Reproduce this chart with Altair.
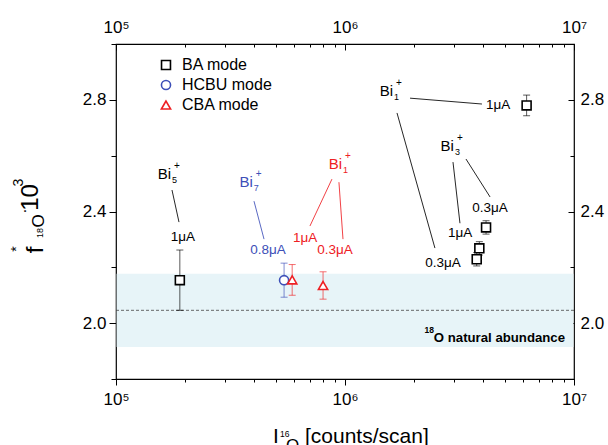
import altair as alt
import pandas as pd

FONT = "Liberation Sans"
W, H = 458, 335

# ---------------- data ----------------
modes = ["BA mode", "HCBU mode", "CBA mode"]
mode_colors = ["#000000", "#3d4fb8", "#ee2024"]
mode_shapes = ["square", "circle", "triangle-up"]
mode_sizes = [80, 85, 140]

pt_mode = ["BA mode", "BA mode", "BA mode", "BA mode", "BA mode", "HCBU mode", "CBA mode", "CBA mode"]
pt_x = [1.90e5, 6.21e6, 4.13e6, 3.86e6, 3.76e6, 5.42e5, 5.88e5, 8.02e5]
pt_y = [2.154, 2.780, 2.343, 2.268, 2.229, 2.154, 2.155, 2.135]
pt_err = [0.108, 0.037, 0.024, 0.024, 0.024, 0.061, 0.055, 0.049]

# ion labels (Bi_n^+)
bi_x = [1.74e5, 3.96e5, 9.70e5, 1.62e6, 2.99e6]
bi_y = [2.534, 2.505, 2.570, 2.833, 2.634]
bi_sub = ["5", "7", "1", "1", "3"]
bi_mode = ["BA mode", "HCBU mode", "CBA mode", "BA mode", "BA mode"]

# current labels
cur_text = ["1μA", "0.8μA", "1μA", "0.3μA", "1μA", "0.3μA", "0.3μA", "1μA"]
cur_x = [1.96e5, 4.61e5, 6.69e5, 9.04e5, 4.66e6, 2.68e6, 4.30e6, 3.18e6]
cur_y = [2.308, 2.262, 2.305, 2.262, 2.781, 2.215, 2.412, 2.323]
cur_mode = ["BA mode", "HCBU mode", "CBA mode", "CBA mode", "BA mode", "BA mode", "BA mode", "BA mode"]

# leader lines
ln_x1 = [1.756e5, 4.005e5, 8.77e5, 9.41e5, 1.923e6, 1.687e6, 2.962e6, 3.375e6]
ln_y1 = [2.477, 2.437, 2.516, 2.505, 2.806, 2.753, 2.577, 2.588]
ln_x2 = [1.884e5, 4.43e5, 7.03e5, 9.80e5, 3.963e6, 2.47e6, 3.177e6, 4.30e6]
ln_y2 = [2.362, 2.301, 2.348, 2.301, 2.785, 2.269, 2.358, 2.452]
ln_mode = ["BA mode", "HCBU mode", "CBA mode", "CBA mode", "BA mode", "BA mode", "BA mode", "BA mode"]

# natural abundance band
nat_value = [2.046]
nat_lo = [1.915]
nat_hi = [2.177]

# axis ticks
x_major = [1e5, 1e6, 1e7]
x_minor = [2e5, 3e5, 4e5, 5e5, 6e5, 7e5, 8e5, 9e5, 2e6, 3e6, 4e6, 5e6, 6e6, 7e6, 8e6, 9e6]
y_major = [2.0, 2.4, 2.8]
y_minor = [1.8, 2.2, 2.6, 3.0]

# ---------------- tables ----------------
pts = pd.DataFrame({"mode": pt_mode, "x": pt_x, "y": pt_y, "err": pt_err})
pts["lo"] = pts["y"] - pts["err"]
pts["hi"] = pts["y"] + pts["err"]
bi = pd.DataFrame({"x": bi_x, "y": bi_y, "sub": bi_sub, "mode": bi_mode})
cur = pd.DataFrame({"x": cur_x, "y": cur_y, "t": cur_text, "mode": cur_mode})
lines = pd.DataFrame({"x": ln_x1, "y": ln_y1, "x2": ln_x2, "y2": ln_y2, "mode": ln_mode})
band = pd.DataFrame({"v": nat_value, "lo": nat_lo, "hi": nat_hi})
one = pd.DataFrame({"a": [0]})

xscale = alt.Scale(type="log", domain=[1e5, 1e7])
yscale = alt.Scale(domain=[1.8, 3.0])


def cs():
    return alt.Scale(domain=modes, range=mode_colors)


leg = alt.Legend(orient="none", legendX=42, legendY=13, title=None, labelFont=FONT, labelFontSize=16,
                 labelColor="black", symbolSize=85, symbolStrokeWidth=1.6, rowPadding=4,
                 labelOffset=8, padding=0)


def X(f, axis=None):
    return alt.X(f, type="quantitative", scale=xscale, axis=axis)


def Y(f, axis=None):
    return alt.Y(f, type="quantitative", scale=yscale, axis=axis)


def C():
    return alt.Color("mode:N", scale=cs(), legend=None)


# ---------------- axes ----------------
lab = "datum.value == 100000 ? '10⁵' : datum.value == 1000000 ? '10⁶' : '10⁷'"
common = dict(grid=False, domain=False, tickColor="black", tickWidth=1, labelFont=FONT,
              labelFontSize=17, labelColor="black", labelFlush=False, labelOverlap=False, title=None)
ax_b = alt.Axis(orient="bottom", values=x_major, tickSize=6, labelPadding=6, labelExpr=lab, **common)
ax_bm = alt.Axis(orient="bottom", values=x_minor, tickSize=3, labels=False, **common)
ax_t = alt.Axis(orient="top", values=x_major, offset=-6, tickSize=6, labelPadding=8, labelExpr=lab, **common)
ax_tm = alt.Axis(orient="top", values=x_minor, offset=-3, tickSize=3, labels=False, **common)
ay_l = alt.Axis(orient="left", values=y_major, tickSize=7, labelPadding=3, format=".1f", **common)
ay_lm = alt.Axis(orient="left", values=y_minor, tickSize=5, labels=False, **common)
ay_r = alt.Axis(orient="right", values=y_major, offset=-6, tickSize=6, labelPadding=6, format=".1f", **common)
ay_rm = alt.Axis(orient="right", values=y_minor, offset=-4, tickSize=4, labels=False, **common)

carriers = [
    alt.Chart(pts).mark_point(opacity=0).encode(x=X("x", ax), y=Y("y", ay))
    for ax, ay in [(ax_b, ay_l), (ax_bm, ay_lm), (ax_t, ay_r), (ax_tm, ay_rm)]
]

# ---------------- marks ----------------
band_rect = alt.Chart(band).mark_rect(color="#e7f4f8").encode(
    y=Y("lo"), y2="hi", x=alt.value(0.6), x2=alt.value(W - 0.6))
band_line = alt.Chart(band).mark_rule(color="#444444", strokeWidth=0.8, strokeDash=[3, 2]).encode(
    y=Y("v"), x=alt.value(0), x2=alt.value(W))

leader = alt.Chart(lines).mark_rule(strokeWidth=1, opacity=0.85).encode(
    x=X("x"), y=Y("y"), x2="x2", y2="y2", color=C())

err_rule = alt.Chart(pts).mark_rule(strokeWidth=1, opacity=0.65).encode(
    x=X("x"), y=Y("lo"), y2="hi", color=C())
cap_lo = alt.Chart(pts).mark_tick(orient="horizontal", size=7, thickness=1, opacity=0.65).encode(
    x=X("x"), y=Y("lo"), color=C())
cap_hi = alt.Chart(pts).mark_tick(orient="horizontal", size=7, thickness=1, opacity=0.65).encode(
    x=X("x"), y=Y("hi"), color=C())

points = alt.Chart(pts).mark_point(filled=False, fill="white", fillOpacity=1, strokeWidth=1.6, opacity=1).encode(
    x=X("x"), y=Y("y"),
    color=alt.Color("mode:N", scale=cs(), legend=leg),
    shape=alt.Shape("mode:N", scale=alt.Scale(domain=modes, range=mode_shapes), legend=leg),
    size=alt.Size("mode:N", scale=alt.Scale(domain=modes, range=mode_sizes), legend=None),
)

bi_main = alt.Chart(bi).mark_text(text="Bi", font=FONT, fontSize=15, align="right", baseline="middle").encode(
    x=X("x"), y=Y("y"), color=C())
bi_subm = alt.Chart(bi).mark_text(font=FONT, fontSize=9, align="left", baseline="middle", dx=1, dy=6).encode(
    x=X("x"), y=Y("y"), text="sub:N", color=C())
bi_sup = alt.Chart(bi).mark_text(text="+", font=FONT, fontSize=10, align="left", baseline="middle", dx=3, dy=-8).encode(
    x=X("x"), y=Y("y"), color=C())
cur_lab = alt.Chart(cur).mark_text(font=FONT, fontSize=13.5, align="center", baseline="middle").encode(
    x=X("x"), y=Y("y"), text="t:N", color=C())


def txt(t, px, py, size, align="left", baseline="alphabetic", weight="normal", angle=0):
    return alt.Chart(one).mark_text(text=t, font=FONT, fontSize=size, align=align, baseline=baseline,
                                    fontWeight=weight, angle=angle, color="black").encode(
        x=alt.value(px), y=alt.value(py))


nat_text = [
    txt("O natural abundance", 449, 297.5, 13.2, align="right", weight="bold"),
    txt("18", 318, 289, 8.5, align="right", weight="bold"),
]

x_title = [
    txt("I", 157, 399, 21),
    txt("16", 164, 393, 8.5),
    txt("O", 170, 407, 17),
    txt("[counts/scan]", 189, 399, 21),
]

y_title = [
    txt("f", -80.5, 206, 24, align="center", baseline="middle", angle=270),
    txt("*", -99, 205, 14, align="center", baseline="middle", angle=270),
    txt("18", -76.5, 189, 9, align="center", baseline="middle", angle=270),
    txt("O", -77.5, 177, 17, align="center", baseline="middle", angle=270),
    txt("·", -91, 167, 16, align="center", baseline="middle", angle=270),
    txt("10", -85, 153.5, 24, align="center", baseline="middle", angle=270),
    txt("3", -97.5, 138.5, 14, align="center", baseline="middle", angle=270),
]

chart = alt.layer(
    band_rect, band_line, leader, err_rule, cap_lo, cap_hi, points,
    bi_main, bi_subm, bi_sup, cur_lab, *nat_text, *x_title, *y_title, *carriers
).resolve_axis(x="independent", y="independent").resolve_scale(
    color="independent", shape="independent", size="independent"
).resolve_legend(color="independent", shape="independent", size="independent").properties(
    width=W, height=H,
    autosize=alt.AutoSizeParams(type="none"),
    padding={"left": 116, "top": 44, "right": 34, "bottom": 66},
).configure_view(stroke="black", strokeWidth=1.2)

chart.save("out.html", embed_options={"renderer": "svg", "actions": False})
